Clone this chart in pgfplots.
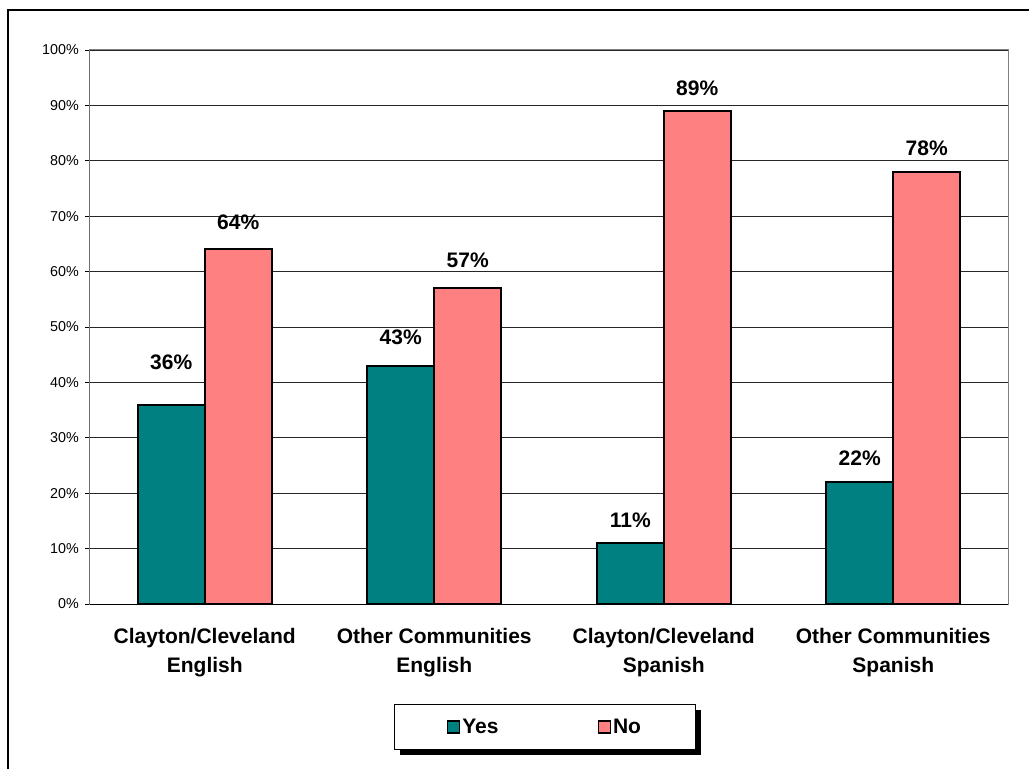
\documentclass[border=0pt]{standalone}
\usepackage{pgfplots}
\pgfplotsset{compat=1.18}
\usepackage{fontspec}
\setmainfont{Liberation Sans}
\definecolor{yescol}{HTML}{008080}
\definecolor{nocol}{HTML}{FF8080}

% share of answers per group; dy = label offset above the bar top (pt)
\pgfplotstableread{
x y dy
0 36 42
1 43 28
2 11 23
3 22 24
}\yesdata
\pgfplotstableread{
x y dy
0 64 27
1 57 28
2 89 23
3 78 24
}\nodata

\begin{document}
\begin{tikzpicture}
\useasboundingbox (0,0) rectangle (1029pt,769pt);
% chart frame
\draw[line width=2.5pt] (8pt,-20pt) -- (8pt,759pt) -- (1060pt,759pt);
% legend shadow
\fill[black] (400pt,14pt) rectangle (701pt,59pt);
\begin{axis}[
  at={(90pt,165pt)}, anchor=south west,
  scale only axis, width=918pt, height=554pt,
  xmin=-0.5, xmax=3.5, ymin=0, ymax=100,
  ybar, bar width=0.292,
  /pgf/number format/assume math mode=true,
  ytick={0,10,...,100},
  yticklabel={\pgfmathprintnumber{\tick}\%},
  yticklabel style={font=\fontsize{14.3}{16}\selectfont, inner sep=0pt, xshift=-6pt},
  ytick pos=left, tick align=outside, major tick length=5pt,
  ytick style={black, line width=0.8pt},
  xtick={0,1,2,3},
  xticklabels={{Clayton/Cleveland\\English},{Other Communities\\English},{Clayton/Cleveland\\Spanish},{Other Communities\\Spanish}},
  xticklabel style={align=center, font=\bfseries\fontsize{21}{29}\selectfont, inner sep=0pt, yshift=-19pt},
  xtick style={draw=none},
  ymajorgrids, grid style={black!85, line width=0.8pt},
  axis line style={draw=gray, line width=1pt},
  legend columns=2,
  legend style={at={(0.4956,-0.222)}, anchor=center, draw=black, line width=1pt, fill=white,
    font=\bfseries\fontsize{21}{23}\selectfont,
    inner xsep=52pt, inner ysep=12.5pt,
    /tikz/every even column/.append style={column sep=97pt}},
  legend image code/.code={\draw[#1, draw=black, line width=1.5pt] (0pt,-6pt) rectangle (12pt,6pt);},
  nodes near coords={\pgfmathprintnumber{\pgfplotspointmeta}\%},
  visualization depends on={\thisrow{dy} \as \dy},
  every node near coord/.append style={anchor=center, yshift=\dy pt, black,
    font=\bfseries\fontsize{21}{23}\selectfont},
]
\addplot[fill=yescol, draw=black, line width=2pt, bar shift=-0.146] table[x=x, y=y] {\yesdata};
\addplot[fill=nocol, draw=black, line width=2pt, bar shift=0.146] table[x=x, y=y] {\nodata};
\legend{Yes, No}
\draw[black, line width=1pt] (rel axis cs:0,1) -- (rel axis cs:0,0) -- (rel axis cs:1,0);
\end{axis}
\end{tikzpicture}
\end{document}
